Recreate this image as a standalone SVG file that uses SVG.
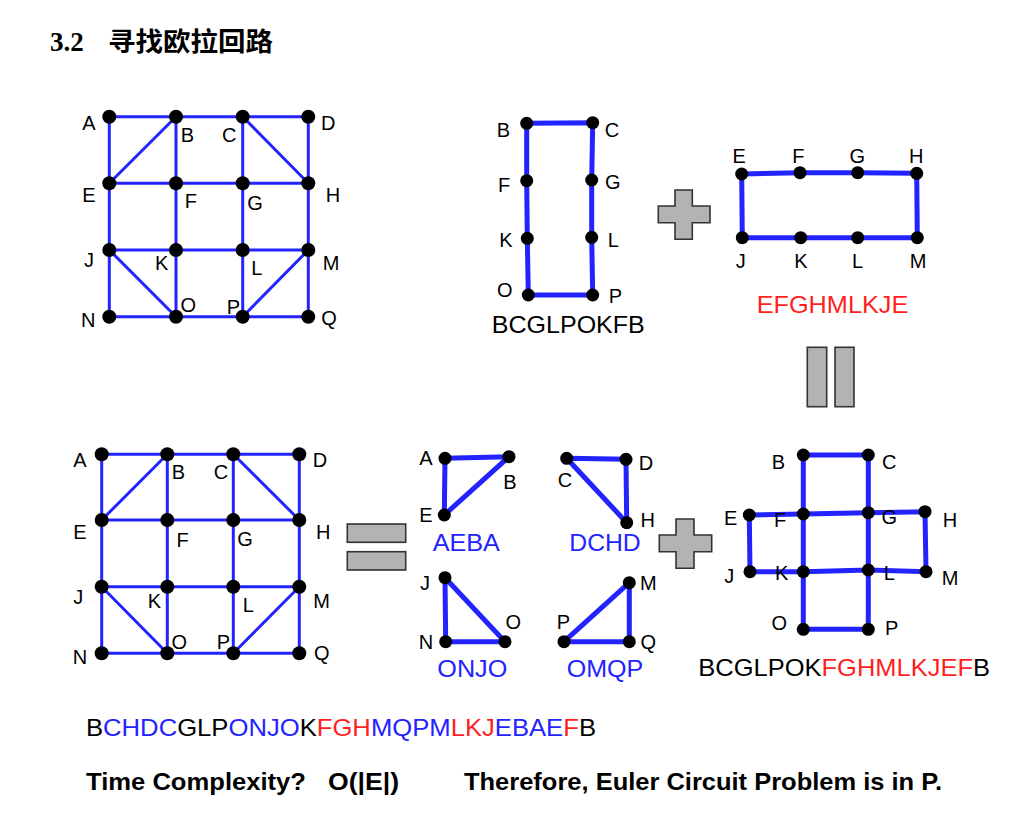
<svg xmlns="http://www.w3.org/2000/svg" width="1025" height="816" viewBox="0 0 1025 816">
<style>
.bg{fill:#ffffff}
.e{stroke:#2323ff;stroke-width:3;fill:none;stroke-linecap:round}
.w{stroke:#2323ff;stroke-width:5;fill:none;stroke-linecap:round}
.n{fill:#000000}
.l{font-family:"Liberation Sans",Arial,sans-serif;font-size:20px;fill:#000000;text-anchor:middle}
.p{font-family:"Liberation Sans",Arial,sans-serif;font-size:24px;text-anchor:middle}
.k{fill:#000000}
.b{fill:#2323ff}
.r{fill:#ff1f1f}
.op{fill:#b3b3b3;stroke:#333333;stroke-width:1.6}
.t{font-family:"Liberation Sans",Arial,sans-serif;font-size:24px;font-weight:bold;fill:#000000}
</style>
<rect class="bg" x="0" y="0" width="1025" height="816"/>
<g id="title">
<text x="50" y="51" font-family="'Liberation Serif','Times New Roman',serif" font-size="27" font-weight="bold" fill="#000">3.2</text>
<text x="108" y="51" font-family="'Noto Sans CJK SC',sans-serif" font-size="26" font-weight="bold" fill="#000" textLength="165" lengthAdjust="spacingAndGlyphs">寻找欧拉回路</text>
</g>

<g id="connectors">
<!-- top-left grid -->
<path class="e" d="M109.3,116.7L308.3,116.7M109.3,183.3L308.3,183.3M109.3,250L308.3,250M109.3,316.7L308.3,316.7"/>
<path class="e" d="M109.3,116.7L109.3,316.7M308.3,116.7L308.3,316.7M176,116.7L176,316.7M242.7,116.7L242.7,316.7"/>
<path class="e" d="M176,116.7L109.3,183.3M242.7,116.7L308.3,183.3M109.3,250L176,316.7M242.7,316.7L308.3,250"/>
<!-- bottom-left grid -->
<path class="e" d="M101.7,454.3L299.3,454.3M101.7,520L299.3,520M101.7,586.7L299.3,586.7M101.7,653.3L299.3,653.3"/>
<path class="e" d="M101.7,454.3L101.7,653.3M299.3,454.3L299.3,653.3M167.3,454.3L167.3,653.3M233.3,454.3L233.3,653.3"/>
<path class="e" d="M167.3,454.3L101.7,520M233.3,454.3L299.3,520M101.7,586.7L167.3,653.3M233.3,653.3L299.3,586.7"/>
<!-- top-middle cycle -->
<path class="w" d="M526.7,123.3L592.7,122.7L591.7,180L591.7,237.3L592.7,295L528.3,295L527.3,238.3L526.7,180.7Z"/>
<!-- top-right cycle -->
<path class="w" d="M741.7,174L800,172.7L857.7,172.7L916.7,173.3L917.3,237.7L857.7,237.7L800.7,237.7L742.3,237.7Z"/>
<!-- triangles -->
<path class="w" d="M445,458.3L509,456.7L444.3,515Z"/>
<path class="w" d="M566.7,458.3L626,459.3L626.7,522.7Z"/>
<path class="w" d="M445,577.7L445.7,641.7L505,641.7Z"/>
<path class="w" d="M564,641.7L629.3,582.7L629.3,641.7Z"/>
<!-- bottom-right combined -->
<path class="w" d="M803.3,455L868.3,455L868.3,629.3L803.3,629.3Z"/>
<path class="w" d="M749.3,515L803.3,514L868.3,512.7L925,511.7L926,571.7L868.3,570L803.3,571.7L750,571.7Z"/>
</g>

<!-- top-left grid nodes -->
<g id="tl-A"><circle class="n" cx="109.3" cy="116.7" r="7"/><text class="l" x="88.8" y="130">A</text></g>
<g id="tl-B"><circle class="n" cx="176" cy="116.7" r="7"/><text class="l" x="187.5" y="141.7">B</text></g>
<g id="tl-C"><circle class="n" cx="242.7" cy="116.7" r="7"/><text class="l" x="229.3" y="142">C</text></g>
<g id="tl-D"><circle class="n" cx="308.3" cy="116.7" r="7"/><text class="l" x="328.3" y="130">D</text></g>
<g id="tl-E"><circle class="n" cx="109.3" cy="183.3" r="7"/><text class="l" x="88.8" y="201.7">E</text></g>
<g id="tl-F"><circle class="n" cx="176" cy="183.3" r="7"/><text class="l" x="190.8" y="208.3">F</text></g>
<g id="tl-G"><circle class="n" cx="242.7" cy="183.3" r="7"/><text class="l" x="255" y="210">G</text></g>
<g id="tl-H"><circle class="n" cx="308.3" cy="183.3" r="7"/><text class="l" x="333" y="201.7">H</text></g>
<g id="tl-J"><circle class="n" cx="109.3" cy="250" r="7"/><text class="l" x="89" y="267">J</text></g>
<g id="tl-K"><circle class="n" cx="176" cy="250" r="7"/><text class="l" x="161.7" y="270">K</text></g>
<g id="tl-L"><circle class="n" cx="242.7" cy="250" r="7"/><text class="l" x="256.7" y="275">L</text></g>
<g id="tl-M"><circle class="n" cx="308.3" cy="250" r="7"/><text class="l" x="331" y="270">M</text></g>
<g id="tl-N"><circle class="n" cx="109.3" cy="316.7" r="7"/><text class="l" x="88.3" y="327">N</text></g>
<g id="tl-O"><circle class="n" cx="176" cy="316.7" r="7"/><text class="l" x="188.3" y="312">O</text></g>
<g id="tl-P"><circle class="n" cx="242.7" cy="316.7" r="7"/><text class="l" x="233.3" y="313.7">P</text></g>
<g id="tl-Q"><circle class="n" cx="308.3" cy="316.7" r="7"/><text class="l" x="329" y="325">Q</text></g>

<!-- top-middle cycle nodes -->
<g id="tm-B"><circle class="n" cx="526.7" cy="123.3" r="6.5"/><text class="l" x="503.3" y="136.7">B</text></g>
<g id="tm-C"><circle class="n" cx="592.7" cy="122.7" r="6.5"/><text class="l" x="612" y="137">C</text></g>
<g id="tm-F"><circle class="n" cx="526.7" cy="180.7" r="6.5"/><text class="l" x="504.2" y="191.7">F</text></g>
<g id="tm-G"><circle class="n" cx="591.7" cy="180" r="6.5"/><text class="l" x="612.8" y="189">G</text></g>
<g id="tm-K"><circle class="n" cx="527.3" cy="238.3" r="6.5"/><text class="l" x="505.8" y="247">K</text></g>
<g id="tm-L"><circle class="n" cx="591.7" cy="237.3" r="6.5"/><text class="l" x="613.3" y="247">L</text></g>
<g id="tm-O"><circle class="n" cx="528.3" cy="295" r="6.5"/><text class="l" x="504.7" y="297">O</text></g>
<g id="tm-P"><circle class="n" cx="592.7" cy="295" r="6.5"/><text class="l" x="615.3" y="303">P</text></g>
<g id="tm-label"><text class="p k" x="568.3" y="333" textLength="153" lengthAdjust="spacingAndGlyphs">BCGLPOKFB</text></g>

<!-- plus top -->
<g id="plus-top"><path class="op" d="M675,190H692.3V206H710V222.7H692.3V239.3H675V222.7H658.3V206H675Z"/></g>

<!-- top-right cycle nodes -->
<g id="tr-E"><circle class="n" cx="741.7" cy="174" r="6.5"/><text class="l" x="739.2" y="162.5">E</text></g>
<g id="tr-F"><circle class="n" cx="800" cy="172.7" r="6.5"/><text class="l" x="798.3" y="162.5">F</text></g>
<g id="tr-G"><circle class="n" cx="857.7" cy="172.7" r="6.5"/><text class="l" x="857.2" y="162.5">G</text></g>
<g id="tr-H"><circle class="n" cx="916.7" cy="173.3" r="6.5"/><text class="l" x="916.2" y="162.5">H</text></g>
<g id="tr-J"><circle class="n" cx="742.3" cy="237.7" r="6.5"/><text class="l" x="740.8" y="268">J</text></g>
<g id="tr-K"><circle class="n" cx="800.7" cy="237.7" r="6.5"/><text class="l" x="800.8" y="268">K</text></g>
<g id="tr-L"><circle class="n" cx="857.7" cy="237.7" r="6.5"/><text class="l" x="857.5" y="268">L</text></g>
<g id="tr-M"><circle class="n" cx="917.3" cy="237.7" r="6.5"/><text class="l" x="918" y="268">M</text></g>
<g id="tr-label"><text class="p r" x="832.5" y="313.3" textLength="151.6" lengthAdjust="spacingAndGlyphs">EFGHMLKJE</text></g>

<!-- vertical equals -->
<g id="equals-vertical">
<rect class="op" x="807.3" y="347.3" width="19.4" height="59.4"/>
<rect class="op" x="835" y="347.3" width="19" height="59.4"/>
</g>

<!-- bottom-left grid nodes -->
<g id="bl-A"><circle class="n" cx="101.7" cy="454.3" r="7"/><text class="l" x="80" y="467">A</text></g>
<g id="bl-B"><circle class="n" cx="167.3" cy="454.3" r="7"/><text class="l" x="178.3" y="478.7">B</text></g>
<g id="bl-C"><circle class="n" cx="233.3" cy="454.3" r="7"/><text class="l" x="221" y="478.7">C</text></g>
<g id="bl-D"><circle class="n" cx="299.3" cy="454.3" r="7"/><text class="l" x="320" y="467">D</text></g>
<g id="bl-E"><circle class="n" cx="101.7" cy="520" r="7"/><text class="l" x="80" y="538.7">E</text></g>
<g id="bl-F"><circle class="n" cx="167.3" cy="520" r="7"/><text class="l" x="182.7" y="547">F</text></g>
<g id="bl-G"><circle class="n" cx="233.3" cy="520" r="7"/><text class="l" x="245" y="546">G</text></g>
<g id="bl-H"><circle class="n" cx="299.3" cy="520" r="7"/><text class="l" x="323.3" y="538.7">H</text></g>
<g id="bl-J"><circle class="n" cx="101.7" cy="586.7" r="7"/><text class="l" x="78.3" y="603.7">J</text></g>
<g id="bl-K"><circle class="n" cx="167.3" cy="586.7" r="7"/><text class="l" x="154.3" y="607.7">K</text></g>
<g id="bl-L"><circle class="n" cx="233.3" cy="586.7" r="7"/><text class="l" x="248.3" y="612">L</text></g>
<g id="bl-M"><circle class="n" cx="299.3" cy="586.7" r="7"/><text class="l" x="321.7" y="607.7">M</text></g>
<g id="bl-N"><circle class="n" cx="101.7" cy="653.3" r="7"/><text class="l" x="80" y="663.7">N</text></g>
<g id="bl-O"><circle class="n" cx="167.3" cy="653.3" r="7"/><text class="l" x="179.3" y="649.3">O</text></g>
<g id="bl-P"><circle class="n" cx="233.3" cy="653.3" r="7"/><text class="l" x="223.3" y="648.7">P</text></g>
<g id="bl-Q"><circle class="n" cx="299.3" cy="653.3" r="7"/><text class="l" x="321.7" y="660.3">Q</text></g>

<!-- equals horizontal -->
<g id="equals-horizontal">
<rect class="op" x="347.3" y="524" width="58.4" height="18.3"/>
<rect class="op" x="347.3" y="551.7" width="58.4" height="18.3"/>
</g>

<!-- triangle AEBA -->
<g id="t1-A"><circle class="n" cx="445" cy="458.3" r="6.5"/><text class="l" x="426" y="465.3">A</text></g>
<g id="t1-B"><circle class="n" cx="509" cy="456.7" r="6.5"/><text class="l" x="510" y="488.7">B</text></g>
<g id="t1-E"><circle class="n" cx="444.3" cy="515" r="6.5"/><text class="l" x="426" y="522">E</text></g>
<g id="t1-label"><text class="p b" x="466.3" y="551" textLength="67.3" lengthAdjust="spacingAndGlyphs">AEBA</text></g>

<!-- triangle DCHD -->
<g id="t2-C"><circle class="n" cx="566.7" cy="458.3" r="6.5"/><text class="l" x="565" y="487">C</text></g>
<g id="t2-D"><circle class="n" cx="626" cy="459.3" r="6.5"/><text class="l" x="646" y="469.7">D</text></g>
<g id="t2-H"><circle class="n" cx="626.7" cy="522.7" r="6.5"/><text class="l" x="647.7" y="527">H</text></g>
<g id="t2-label"><text class="p b" x="605" y="551" textLength="71.4" lengthAdjust="spacingAndGlyphs">DCHD</text></g>

<!-- triangle ONJO -->
<g id="t3-J"><circle class="n" cx="445" cy="577.7" r="6.5"/><text class="l" x="425" y="590.3">J</text></g>
<g id="t3-N"><circle class="n" cx="445.7" cy="641.7" r="6.5"/><text class="l" x="426" y="648.7">N</text></g>
<g id="t3-O"><circle class="n" cx="505" cy="641.7" r="6.5"/><text class="l" x="513.3" y="628.7">O</text></g>
<g id="t3-label"><text class="p b" x="472.3" y="677" textLength="70" lengthAdjust="spacingAndGlyphs">ONJO</text></g>

<!-- triangle OMQP -->
<g id="t4-P"><circle class="n" cx="564" cy="641.7" r="6.5"/><text class="l" x="563.3" y="628.7">P</text></g>
<g id="t4-M"><circle class="n" cx="629.3" cy="582.7" r="6.5"/><text class="l" x="648.3" y="590.3">M</text></g>
<g id="t4-Q"><circle class="n" cx="629.3" cy="641.7" r="6.5"/><text class="l" x="648.3" y="648.7">Q</text></g>
<g id="t4-label"><text class="p b" x="605" y="677" textLength="76.6" lengthAdjust="spacingAndGlyphs">OMQP</text></g>

<!-- plus bottom -->
<g id="plus-bottom"><path class="op" d="M676,519H694V535H711.7V551.7H694V568.3H676V551.7H659.3V535H676Z"/></g>

<!-- bottom-right combined nodes -->
<g id="br-B"><circle class="n" cx="803.3" cy="455" r="6.5"/><text class="l" x="778.3" y="468.7">B</text></g>
<g id="br-C"><circle class="n" cx="868.3" cy="455" r="6.5"/><text class="l" x="889.3" y="468.7">C</text></g>
<g id="br-E"><circle class="n" cx="749.3" cy="515" r="6.5"/><text class="l" x="730.7" y="525.3">E</text></g>
<g id="br-F"><circle class="n" cx="803.3" cy="514" r="6.5"/><text class="l" x="780" y="527">F</text></g>
<g id="br-G"><circle class="n" cx="868.3" cy="512.7" r="6.5"/><text class="l" x="889.3" y="524.3">G</text></g>
<g id="br-H"><circle class="n" cx="925" cy="511.7" r="6.5"/><text class="l" x="950" y="527">H</text></g>
<g id="br-J"><circle class="n" cx="750" cy="571.7" r="6.5"/><text class="l" x="729.3" y="583">J</text></g>
<g id="br-K"><circle class="n" cx="803.3" cy="571.7" r="6.5"/><text class="l" x="781.7" y="580.3">K</text></g>
<g id="br-L"><circle class="n" cx="868.3" cy="570" r="6.5"/><text class="l" x="889.3" y="580.3">L</text></g>
<g id="br-M"><circle class="n" cx="926" cy="571.7" r="6.5"/><text class="l" x="950" y="585.3">M</text></g>
<g id="br-O"><circle class="n" cx="803.3" cy="629.3" r="6.5"/><text class="l" x="779.3" y="629.7">O</text></g>
<g id="br-P"><circle class="n" cx="868.3" cy="629.3" r="6.5"/><text class="l" x="891.7" y="635.3">P</text></g>
<g id="br-label"><text class="p" x="844.2" y="676" textLength="291.7" lengthAdjust="spacingAndGlyphs"><tspan class="k">BCGLPOK</tspan><tspan class="r">FGHMLKJEF</tspan><tspan class="k">B</tspan></text></g>

<!-- bottom texts -->
<g id="circuit">
<text class="p" x="341" y="736" textLength="510" lengthAdjust="spacingAndGlyphs"><tspan class="k">B</tspan><tspan class="b">CHDC</tspan><tspan class="k">GLP</tspan><tspan class="b">ONJO</tspan><tspan class="k">K</tspan><tspan class="r">FGH</tspan><tspan class="b">MQPM</tspan><tspan class="r">LKJ</tspan><tspan class="b">EBAE</tspan><tspan class="r">F</tspan><tspan class="k">B</tspan></text>
</g>
<g id="conclusion">
<text class="t" x="86" y="790" textLength="220" lengthAdjust="spacingAndGlyphs">Time Complexity?</text>
<text class="t" x="328" y="790" textLength="71" lengthAdjust="spacingAndGlyphs">O(|E|)</text>
<text class="t" x="464" y="790" textLength="478" lengthAdjust="spacingAndGlyphs">Therefore, Euler Circuit Problem is in P.</text>
</g>
</svg>
